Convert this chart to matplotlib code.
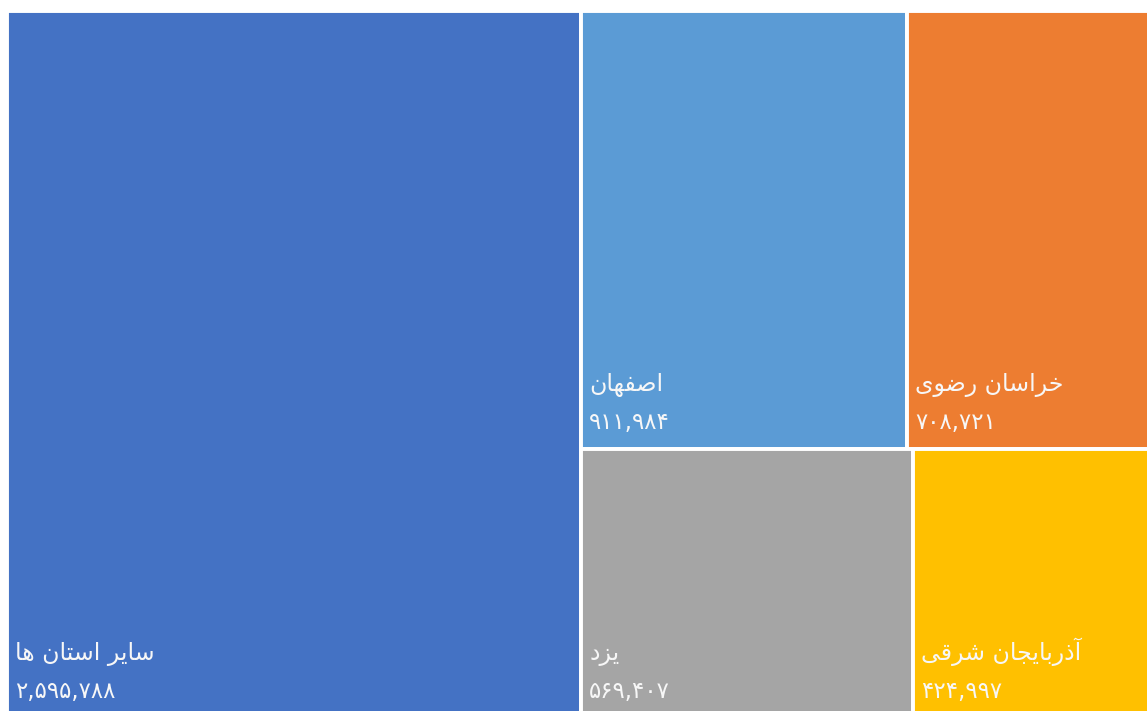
import matplotlib

matplotlib.use("Agg")

import matplotlib.pyplot as plt
from matplotlib.patches import Rectangle

# data
names = ["سایر استان ها", "اصفهان", "خراسان رضوی", "یزد", "آذربایجان شرقی"]
values = [2595788, 911984, 708721, 569407, 424997]
colors = ["#4472C4", "#5B9BD5", "#ED7D31", "#A5A5A5", "#FFC000"]

# arabic presentation forms: isolated, final, initial, medial
FORMS = {
    "ا": ("\uFE8D", "\uFE8E", None, None),
    "آ": ("\uFE81", "\uFE82", None, None),
    "ب": ("\uFE8F", "\uFE90", "\uFE91", "\uFE92"),
    "ت": ("\uFE95", "\uFE96", "\uFE97", "\uFE98"),
    "ج": ("\uFE9D", "\uFE9E", "\uFE9F", "\uFEA0"),
    "خ": ("\uFEA5", "\uFEA6", "\uFEA7", "\uFEA8"),
    "د": ("\uFEA9", "\uFEAA", None, None),
    "ذ": ("\uFEAB", "\uFEAC", None, None),
    "ر": ("\uFEAD", "\uFEAE", None, None),
    "ز": ("\uFEAF", "\uFEB0", None, None),
    "س": ("\uFEB1", "\uFEB2", "\uFEB3", "\uFEB4"),
    "ش": ("\uFEB5", "\uFEB6", "\uFEB7", "\uFEB8"),
    "ص": ("\uFEB9", "\uFEBA", "\uFEBB", "\uFEBC"),
    "ض": ("\uFEBD", "\uFEBE", "\uFEBF", "\uFEC0"),
    "ف": ("\uFED1", "\uFED2", "\uFED3", "\uFED4"),
    "ق": ("\uFED5", "\uFED6", "\uFED7", "\uFED8"),
    "ن": ("\uFEE5", "\uFEE6", "\uFEE7", "\uFEE8"),
    "ه": ("\uFEE9", "\uFEEA", "\uFEEB", "\uFEEC"),
    "و": ("\uFEED", "\uFEEE", None, None),
    "ی": ("\uFBFC", "\uFBFD", "\uFBFE", "\uFBFF"),
}
PERSIAN_DIGITS = str.maketrans("0123456789", "۰۱۲۳۴۵۶۷۸۹")


def shape(text: str) -> str:
    out = []
    for i, ch in enumerate(text):
        if ch not in FORMS:
            out.append(ch)
            continue
        prev = text[i - 1] if i > 0 else ""
        nxt = text[i + 1] if i + 1 < len(text) else ""
        joins_prev = prev in FORMS and FORMS[prev][2] is not None
        joins_next = nxt in FORMS and FORMS[ch][2] is not None
        isol, fin, init, medi = FORMS[ch]
        if joins_prev and joins_next:
            out.append(medi)
        elif joins_prev:
            out.append(fin)
        elif joins_next:
            out.append(init)
        else:
            out.append(isol)
    return "".join(reversed(out))


def persian_number(v: int) -> str:
    return f"{v:,}".translate(PERSIAN_DIGITS)


# treemap layout: first item a full-height column, rest in two rows
total = sum(values)
rects = []
w0 = values[0] / total
rects.append((0.0, 0.0, w0, 1.0))
rest = sum(values[1:])
y = 0.0
for row in ([1, 2], [3, 4]):
    row_sum = sum(values[i] for i in row)
    h = row_sum / rest
    x = w0
    for i in row:
        w = (1 - w0) * values[i] / row_sum
        rects.append((x, y, w, h))
        x += w
    y += h

W, H = 1147, 711
# the plot area runs a little past the right and bottom edges (cropped chart)
left, top, right, bottom = 7, 11, 1160, 718
fig = plt.figure(figsize=(W / 100, H / 100), dpi=100)
ax = fig.add_axes([left / W, 1 - bottom / H, (right - left) / W, (bottom - top) / H])
ax.set_xlim(0, 1)
ax.set_ylim(1, 0)
ax.axis("off")

for (x, y, w, h), c, name, v in zip(rects, colors, names, values):
    ax.add_patch(Rectangle((x, y), w, h, facecolor=c, edgecolor="white", linewidth=2.8))
    ax.annotate(shape(name), xy=(x, y + h), xytext=(8, 58), textcoords="offset pixels",
                ha="left", va="baseline", color="#F7F7F7", fontsize=17, family="DejaVu Sans")
    ax.annotate(persian_number(v), xy=(x, y + h), xytext=(8, 20), textcoords="offset pixels",
                ha="left", va="baseline", color="#F7F7F7", fontsize=16.5, fontweight="medium",
                family="DejaVu Sans")

fig.savefig("out.png", dpi=100)
